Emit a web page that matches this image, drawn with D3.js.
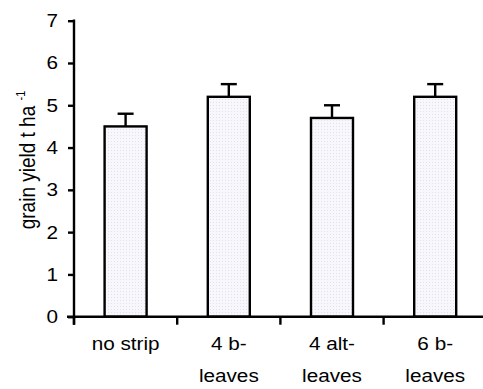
<!DOCTYPE html>
<html>
<head>
<meta charset="utf-8">
<script src="https://cdn.jsdelivr.net/npm/d3@7/dist/d3.min.js"></script>
<style>
  html, body { margin: 0; padding: 0; background: #fff; }
  svg { display: block; }
  text { font-family: "Liberation Sans", Arial, sans-serif; fill: #000; }
</style>
</head>
<body>
<svg id="chart" width="483" height="389"></svg>
<script>
// Grain yield by leaf-stripping treatment
const categories = ["no strip", "4 b-\nleaves", "4 alt-\nleaves", "6 b-\nleaves"];
const yieldValues = [4.5, 5.2, 4.7, 5.2];
const yieldErrors = [0.3, 0.3, 0.3, 0.3];
const yTicks = [0, 1, 2, 3, 4, 5, 6, 7];

const svg = d3.select("#chart");
const FONT = 18.5;     // glyph height
const STRETCH = 1.12;  // text is drawn slightly wide

const x0 = 74, step = 103.2;
const x = d3.scaleBand()
  .domain(categories)
  .range([x0, x0 + step * categories.length])
  .paddingInner(0)
  .paddingOuter(0);

const y = d3.scaleLinear().domain([0, 7]).range([316.7, 20.7]);

// dotted fill for the bars
const defs = svg.append("defs");
const pat = defs.append("pattern")
  .attr("id", "dots")
  .attr("patternUnits", "userSpaceOnUse")
  .attr("width", 3).attr("height", 3);
pat.append("rect").attr("width", 3).attr("height", 3).attr("fill", "#f8f8fc");
pat.append("rect").attr("width", 1).attr("height", 1).attr("fill", "#e2e2ef");

const barW = 42;
const bars = svg.append("g");
categories.forEach((c, i) => {
  const cx = x(c) + x.bandwidth() / 2;
  const top = y(yieldValues[i] + yieldErrors[i]);
  // upper error bar
  bars.append("line")
    .attr("x1", cx).attr("x2", cx)
    .attr("y1", y(yieldValues[i])).attr("y2", top)
    .attr("stroke", "#000").attr("stroke-width", 2.4);
  bars.append("line")
    .attr("x1", cx - 8).attr("x2", cx + 8)
    .attr("y1", top).attr("y2", top)
    .attr("stroke", "#000").attr("stroke-width", 2.4);
  bars.append("rect")
    .attr("x", cx - barW / 2)
    .attr("y", y(yieldValues[i]))
    .attr("width", barW)
    .attr("height", y(0) - y(yieldValues[i]))
    .attr("fill", "url(#dots)")
    .attr("stroke", "#000").attr("stroke-width", 2.4);
});

// y axis
const yAxis = svg.append("g")
  .attr("transform", `translate(${x0},0)`)
  .call(d3.axisLeft(y).tickValues(yTicks).tickFormat(d3.format("d")).tickSize(6));
yAxis.select(".domain").remove();
yAxis.selectAll(".tick line").attr("stroke", "#000").attr("stroke-width", 2.4);
yAxis.selectAll(".tick text")
  .style("font-size", FONT + "px")
  .attr("fill", "#000")
  .attr("x", 0)
  .attr("transform", `translate(-16,0) scale(${STRETCH},1)`);
yAxis.append("line")
  .attr("x1", 0).attr("x2", 0)
  .attr("y1", y(7) - 1.2).attr("y2", y(0) + 8)
  .attr("stroke", "#000").attr("stroke-width", 2.4);

// x axis baseline with ticks at category boundaries
const xg = svg.append("g");
xg.append("line")
  .attr("x1", x0 - 7).attr("x2", x0 + step * categories.length)
  .attr("y1", y(0)).attr("y2", y(0))
  .attr("stroke", "#000").attr("stroke-width", 2.4);
categories.forEach(c => {
  xg.append("line")
    .attr("x1", x(c)).attr("x2", x(c))
    .attr("y1", y(0)).attr("y2", y(0) + 8)
    .attr("stroke", "#000").attr("stroke-width", 2.4);
});

// category labels (two lines where needed)
categories.forEach(c => {
  const cx = x(c) + x.bandwidth() / 2;
  const t = xg.append("text")
    .attr("transform", `translate(${cx},0) scale(${STRETCH},1)`)
    .attr("text-anchor", "middle")
    .style("font-size", FONT + "px");
  c.split("\n").forEach((line, k) => {
    t.append("tspan").attr("x", 0).attr("y", 350 + k * 32).text(line);
  });
});

// y axis title with superscript
const title = svg.append("text")
  .attr("transform", `translate(35,160) scale(1.2,1) rotate(-90)`)
  .attr("text-anchor", "middle")
  .style("font-size", "19px");
title.append("tspan").text("grain yield t ha ");
title.append("tspan").attr("dy", -8).style("font-size", "11px").text("-1");
</script>
</body>
</html>
